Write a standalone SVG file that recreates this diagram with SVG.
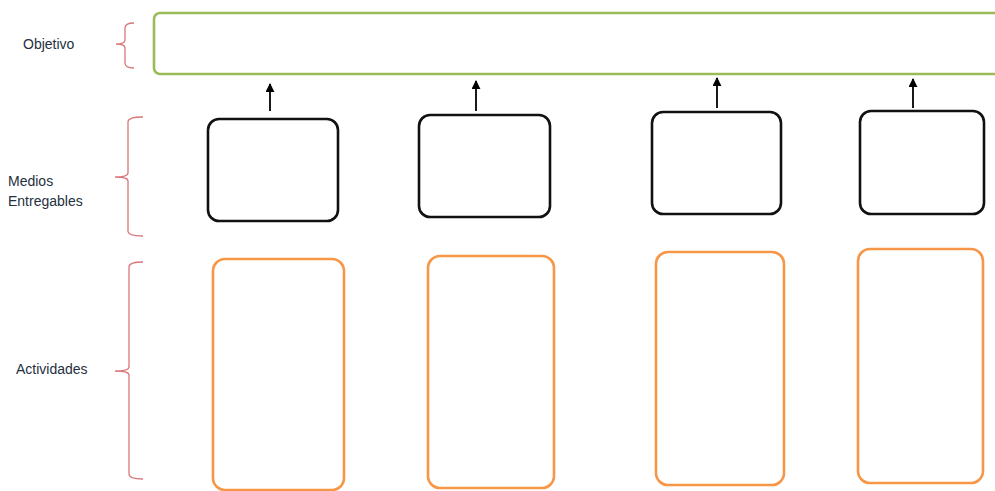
<svg xmlns="http://www.w3.org/2000/svg" width="995" height="491" viewBox="0 0 995 491">
<defs>
<style>
.lbl{font-family:"Liberation Sans",Arial,sans-serif;font-size:14px;fill:#243040}
.brace{fill:none;stroke:#d9777a;stroke-width:1.3}
.goal{fill:#fff;stroke:#9bbb59;stroke-width:2.6}
.med{fill:#fff;stroke:#111;stroke-width:2.6}
.act{fill:#fff;stroke:#f79646;stroke-width:2.6}
.conn{stroke:#000;stroke-width:1.8;fill:none;marker-end:url(#ah)}
</style>
<marker id="ah" viewBox="0 0 10 10" refX="9" refY="5" markerWidth="5" markerHeight="5" orient="auto" markerUnits="strokeWidth">
<path d="M0,0 L10,5 L0,10 z" fill="#000"/>
</marker>
</defs>
<rect width="995" height="491" fill="#fff"/>
<g id="labels">
<text class="lbl" x="23" y="49">Objetivo</text>
<text class="lbl" x="8" y="186">Medios</text>
<text class="lbl" x="8" y="206">Entregables</text>
<text class="lbl" x="16" y="374">Actividades</text>
</g>
<g id="braces">
<path class="brace" d="M134,23 Q125,23 125,28 L125,40 Q125,44 116,44 Q125,44 125,48 L125,63 Q125,68 134,68"/>
<path class="brace" d="M143,117 Q128,117 128,122 L128,173 Q128,177 115,177 Q128,177 128,181 L128,231 Q128,236 143,236"/>
<path class="brace" d="M143,262 Q129,262 129,267 L129,367 Q129,371 115,371 Q129,371 129,375 L129,474 Q129,479 143,479"/>
</g>
<g id="objetivo"><rect class="goal" x="154" y="13" width="860" height="61" rx="6"/></g>
<g id="medio1"><rect class="med" x="208" y="119" width="130" height="102" rx="11"/></g>
<g id="medio2"><rect class="med" x="419" y="115" width="131" height="102" rx="11"/></g>
<g id="medio3"><rect class="med" x="652" y="112" width="129" height="102" rx="11"/></g>
<g id="medio4"><rect class="med" x="860" y="111" width="124" height="103" rx="11"/></g>
<g id="act1"><rect class="act" x="213" y="259" width="131" height="231" rx="12"/></g>
<g id="act2"><rect class="act" x="428" y="256" width="126" height="232" rx="12"/></g>
<g id="act3"><rect class="act" x="656" y="252" width="128" height="233" rx="12"/></g>
<g id="act4"><rect class="act" x="858" y="249" width="125" height="234" rx="12"/></g>
<g id="connectors">
<line class="conn" x1="270" y1="111" x2="270" y2="84"/>
<line class="conn" x1="476" y1="111" x2="476" y2="81"/>
<line class="conn" x1="717" y1="108" x2="717" y2="78"/>
<line class="conn" x1="913" y1="108" x2="913" y2="79"/>
</g>
</svg>
